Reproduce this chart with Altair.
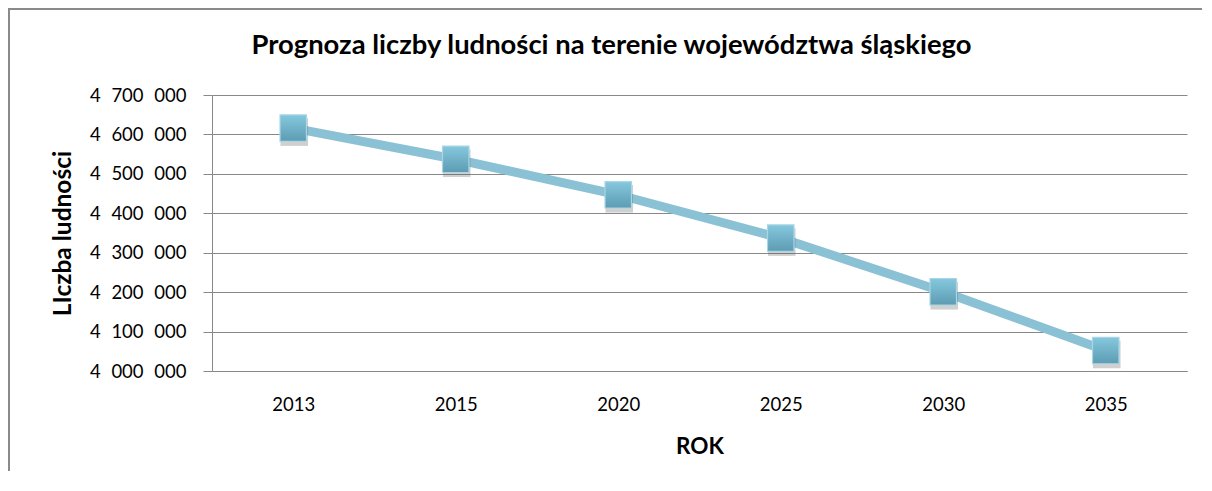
import altair as alt
import pandas as pd

years = ["2013", "2015", "2020", "2025", "2030", "2035"]
population = [4616000, 4537000, 4447000, 4337000, 4201000, 4052000]
y_ticks = [4000000, 4100000, 4200000, 4300000, 4400000, 4500000, 4600000, 4700000]

df = pd.DataFrame({"rok": years, "ludnosc": population})

GRAY = "#888888"
FONT = "Lato"

x_enc = alt.X(
    "rok:O",
    sort=years,
    scale=alt.Scale(type="point", padding=0.5),
    axis=alt.Axis(
        title="ROK", labelAngle=0, ticks=False, domain=True, domainColor=GRAY,
        labelPadding=24, titlePadding=22, grid=False, titleFontSize=22.5,
    ),
)
y_enc = alt.Y(
    "ludnosc:Q",
    scale=alt.Scale(domain=[4000000, 4700000], nice=False, zero=False),
    axis=alt.Axis(
        title="LIczba ludności", values=y_ticks, grid=True, gridColor=GRAY,
        domain=True, domainColor=GRAY, ticks=True, tickSize=9, tickColor=GRAY,
        labelPadding=17, titlePadding=14, titleFontSize=24.5,
        labelExpr="replace(replace(format(datum.value, ','), ',', '\u2007'), ',', '\u2007')",
    ),
)

base = alt.Chart(df)

line = base.mark_line(color="#8BC1D4", strokeWidth=9).encode(x=x_enc, y=y_enc)

shadow = base.mark_point(
    shape="square", filled=True, size=760, color="#555555", opacity=0.28
).encode(x=x_enc, y=y_enc, yOffset=alt.value(4), xOffset=alt.value(1))

points = base.mark_point(
    shape="square", filled=True, size=700, strokeWidth=1.2, stroke="#A8D6E6", opacity=1,
    fill=alt.Gradient(
        gradient="linear",
        stops=[alt.GradientStop(color="#85C8DE", offset=0), alt.GradientStop(color="#5D9CB2", offset=1)],
        x1=0, x2=0, y1=0, y2=1,
    ),
).encode(x=x_enc, y=y_enc)

border_left = alt.Chart(df).mark_rule(color="#8A8A8A", strokeWidth=2).encode(
    x=alt.value(-203), y=alt.value(-87), y2=alt.value(380)
)
border_top = alt.Chart(df).mark_rule(color="#8A8A8A", strokeWidth=2).encode(
    x=alt.value(-204), x2=alt.value(1000), y=alt.value(-86)
)

chart = (
    alt.layer(border_left, border_top, line, shadow, points)
    .properties(
        width=975,
        height=276,
        title=alt.Title(
            "Prognoza liczby ludności na terenie województwa śląskiego",
            font=FONT, fontSize=27.4, fontWeight="bold", color="#000000",
            anchor="middle", frame="group", dx=-88, offset=-74, baseline="alphabetic",
        ),
        autosize=alt.AutoSizeParams(type="none"),
        padding={"left": 204, "top": 87, "right": 15, "bottom": 100},
        background="white",
    )
    .configure_view(stroke=None)
    .configure_axis(
        labelFont=FONT, labelFontSize=18.5, labelColor="#000000",
        titleFont=FONT, titleFontWeight="bold", titleColor="#000000",
    )
)

chart.save("out.html", embed_options={"renderer": "svg", "actions": False})
